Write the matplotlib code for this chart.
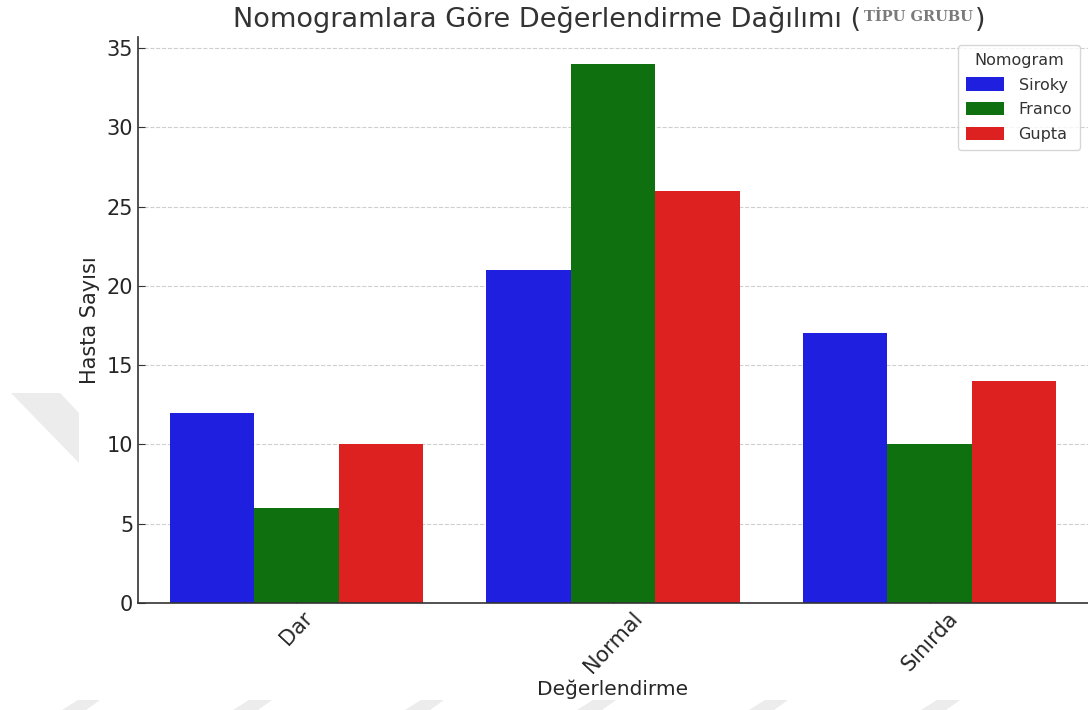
import numpy as np
import matplotlib
matplotlib.use("Agg")
import matplotlib.pyplot as plt
from matplotlib.patches import Polygon

# ── data ──────────────────────────────────────────────
categories = ["Dar", "Normal", "Sınırda"]
nomograms  = ["Siroky", "Franco", "Gupta"]
siroky = [12, 21, 17]
franco = [6, 34, 10]
gupta  = [10, 26, 14]
colors = ["#1f1fe0", "#0f700f", "#dd2020"]

plt.rcParams["font.family"] = ["DejaVu Sans"]
TXT = "#262626"

fig = plt.figure(figsize=(10.88, 7.10), dpi=100)

# faint watermark shapes in the background (figure pixels, y from top)
W, H = 1088, 710
wm = [
    [(11, 393), (60, 393), (79, 413), (79, 463)],
    [(62, 710), (78, 700), (100, 700), (86, 710)],
    [(233, 710), (249, 700), (272, 700), (258, 710)],
    [(405, 710), (421, 700), (444, 700), (430, 710)],
    [(577, 710), (593, 700), (616, 700), (602, 710)],
    [(749, 710), (765, 700), (788, 700), (774, 710)],
    [(921, 710), (937, 700), (960, 700), (946, 710)],
]
for poly in wm:
    fig.patches.append(Polygon([(x / W, 1 - y / H) for x, y in poly], closed=True,
                               transform=fig.transFigure, fc="#ececec", ec="none", zorder=0))

ax = fig.add_axes([138 / W, 1 - 603 / H, 1 - 138 / W, (603 - 36.9) / H])
ax.patch.set_alpha(0)

x = np.arange(len(categories))
w = 0.8 / 3
for i, (name, vals) in enumerate(zip(nomograms, [siroky, franco, gupta])):
    ax.bar(x + (i - 1) * w, vals, width=w, color=colors[i], label=name, zorder=2)

ax.set_xlim(-0.5, 2.5)
ax.set_ylim(0, 35.7)
ax.set_yticks(np.arange(0, 36, 5))
ax.set_xticks(x)
ax.set_xticklabels(categories, rotation=47, fontsize=15, color=TXT)
ax.tick_params(axis="y", labelsize=15, labelcolor=TXT)
ax.tick_params(direction="in", length=5, color="#333333")
ax.yaxis.grid(True, ls="--", lw=0.8, color="#cfcfcf")
ax.set_axisbelow(True)
for s in ["top", "right"]:
    ax.spines[s].set_visible(False)
for s in ["left", "bottom"]:
    ax.spines[s].set_color("#333333")
    ax.spines[s].set_linewidth(1.2)

ax.set_xlabel("Değerlendirme", fontsize=14.5, color=TXT, labelpad=2)
ax.set_ylabel("Hasta Sayısı", fontsize=15, color=TXT, labelpad=5)

leg = ax.legend(title="Nomogram", loc="upper right", fontsize=11.5, title_fontsize=11.5,
                frameon=True, borderpad=0.5, labelspacing=0.6, handlelength=2.4,
                handleheight=0.9, handletextpad=0.9)
leg.get_frame().set_edgecolor("#cccccc")
for t in leg.get_texts():
    t.set_color("#333333")
leg.get_title().set_color("#333333")

# title in pieces: main text, grey serif tag, closing paren
t1 = fig.text(233 / W, 1 - 27 / H, "Nomogramlara Göre Değerlendirme Dağılımı (",
              fontsize=19.5, color="#333333", ha="left", va="baseline")
t2 = fig.text(0, 0, "TİPU GRUBU", fontsize=10.5, color="#7a7a7a", family="DejaVu Serif",
              fontweight="bold", va="baseline")
fig.canvas.draw()
bb = t1.get_window_extent()
t2.set_position((bb.x1 / W + 3 / W, 1 - 21 / H))
fig.canvas.draw()
bb2 = t2.get_window_extent()
fig.text(bb2.x1 / W + 2 / W, 1 - 27 / H, ")", fontsize=19.5, color="#333333",
         ha="left", va="baseline")

fig.savefig("out.png", dpi=100)
